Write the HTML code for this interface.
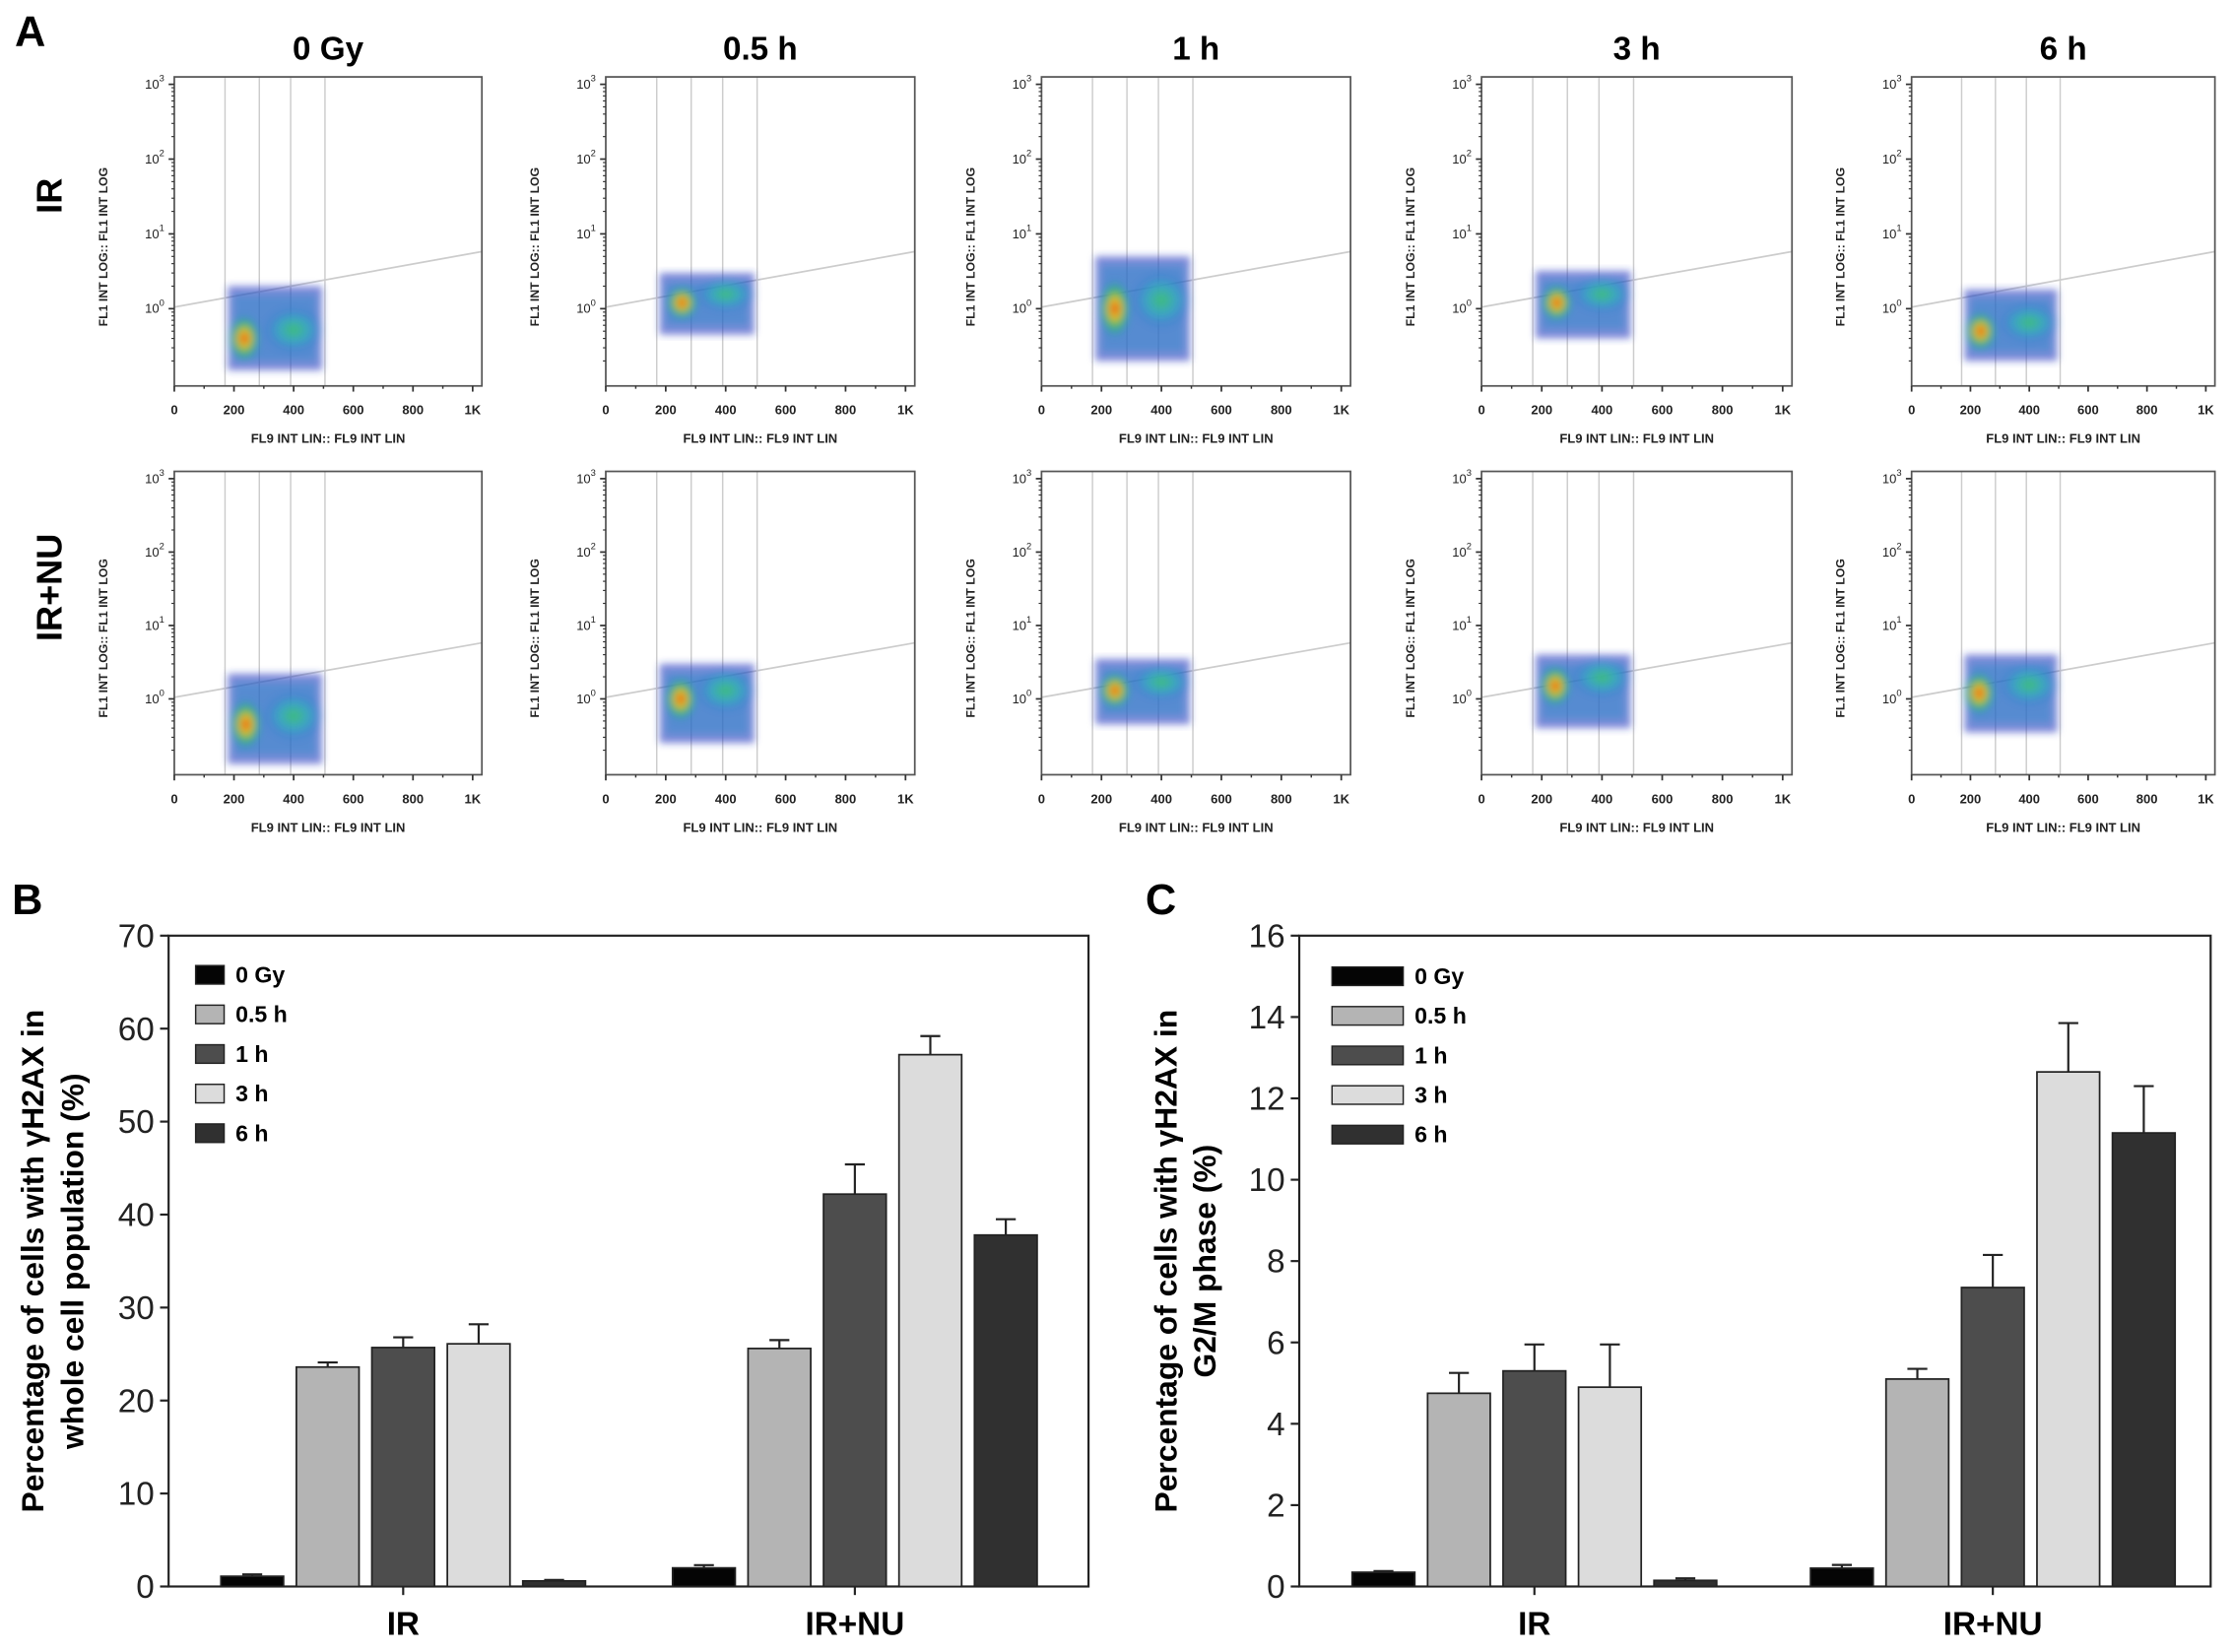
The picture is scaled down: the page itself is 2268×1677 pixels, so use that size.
<!DOCTYPE html>
<html><head><meta charset="utf-8">
<style>
html,body{margin:0;padding:0;background:#fff;}
svg{display:block;font-family:"Liberation Sans",Arial,sans-serif;}
</style></head>
<body>
<svg id="fig" width="2268" height="1677" viewBox="0 0 1568 1160" xmlns="http://www.w3.org/2000/svg">
<defs>
<radialGradient id="hot" cx="50%" cy="50%" r="50%">
<stop offset="0" stop-color="#e02010"/><stop offset="0.3" stop-color="#f0c020"/><stop offset="0.6" stop-color="#30c060" stop-opacity="0.8"/><stop offset="1" stop-color="#2080d0" stop-opacity="0"/>
</radialGradient>
<radialGradient id="warm" cx="50%" cy="50%" r="50%">
<stop offset="0" stop-color="#40c070"/><stop offset="0.5" stop-color="#30b0c0" stop-opacity="0.7"/><stop offset="1" stop-color="#2060d0" stop-opacity="0"/>
</radialGradient>
<filter id="blur"><feGaussianBlur stdDeviation="2.5"/></filter>
</defs>
<g id="root"></g>
</svg>
<script>
const NS='http://www.w3.org/2000/svg';
const root=document.getElementById('root');
function el(tag,attrs,parent,text){const e=document.createElementNS(NS,tag);for(const k in attrs)e.setAttribute(k,attrs[k]);if(text!==undefined)e.textContent=text;(parent||root).appendChild(e);return e;}

// ---------- Panel A data ----------
const timeLabels=['0 Gy','0.5 h','1 h','3 h','6 h'];
const rowLabels=['IR','IR+NU'];
const gateX=[170,285,390,505];
// cluster: [yLow, yHigh, hotX, hotY] in data units (log y)
const clustersIR=[[0.15,2.0,235,0.4],[0.45,3.0,255,1.2],[0.2,5.0,245,1.0],[0.4,3.2,250,1.2],[0.2,1.8,235,0.5]];
const clustersNU=[[0.13,2.2,240,0.45],[0.25,3.0,250,1.0],[0.45,3.5,245,1.3],[0.4,4.0,245,1.5],[0.35,4.0,230,1.2]];
const boxesX=[[122,338],[425,642],[731,948],[1040,1258],[1342,1555]];
const boxRowY=[[54,271],[331,544]];
const xTicks=[0,200,400,600,800,1000];
const xTickLbl=['0','200','400','600','800','1K'];

el('text',{x:10,y:32,'font-size':30,'font-weight':'bold',},root,'A');
timeLabels.forEach((t,i)=>{
  const cx=(boxesX[i][0]+boxesX[i][1])/2;
  const e=el('text',{x:cx,y:42,'font-size':23,'font-weight':'bold','text-anchor':'middle'},root,t);
  
  
});
rowLabels.forEach((r,ri)=>{
  const cy=(boxRowY[ri][0]+boxRowY[ri][1])/2;
  const e=el('text',{x:0,y:0,'font-size':25,'font-weight':'bold','text-anchor':'middle',transform:`translate(43,${cy-25}) rotate(-90)`},root,r);
  
  
});

function scatter(ri,ci,cl){
  const [x0,x1]=boxesX[ci],[y0,y1]=boxRowY[ri];
  const w=x1-x0,h=y1-y0;
  const g=el('g',{});
  
  
  const X=v=>x0+w*0.97*v/1000;
  const Y=v=>y0+h*(0.024+ (3-Math.log10(v))*0.242);
  gateX.forEach(gx=>el('line',{x1:X(gx),x2:X(gx),y1:y0,y2:y1,stroke:'#ccc','stroke-width':1},g));
  el('line',{x1:x0,y1:Y(1.05),x2:x1,y2:Y(5.8),stroke:'#ccc','stroke-width':1.2},g);
  const [lo,hi,hx,hy]=cl;
  const c=el('g',{filter:'url(#blur)'},g);
  el('rect',{x:X(gateX[0])+2,y:Y(hi),width:X(gateX[3])-X(gateX[0])-4,height:Y(lo)-Y(hi),fill:'#2838c0',opacity:0.6},c);
  el('rect',{x:X(gateX[0])+6,y:Y(hi)+6,width:X(gateX[3])-X(gateX[0])-12,height:Y(lo)-Y(hi)-12,fill:'#2a90c8',opacity:0.45},c);
  el('ellipse',{cx:X(400),cy:Y(hy*1.3),rx:22,ry:(Y(lo)-Y(hi))/3.5,fill:'url(#warm)'},c);
  el('ellipse',{cx:X(hx),cy:Y(hy),rx:12,ry:(Y(lo)-Y(hi))/3.4,fill:'url(#hot)'},c);
  el('rect',{x:x0,y:y0,width:w,height:h,fill:'none',stroke:'#555','stroke-width':1.2},g);
  [0,1,2,3].forEach(p=>{
    const yy=Y(Math.pow(10,p));
    el('line',{x1:x0-4,x2:x0,y1:yy,y2:yy,stroke:'#333','stroke-width':1.2},g);
    for(let m=2;m<10;m++){const ym=Y(m*Math.pow(10,p-1));if(ym<y1&&ym>y0)el('line',{x1:x0-2,x2:x0,y1:ym,y2:ym,stroke:'#333','stroke-width':0.8},g);}
    const t=el('text',{x:x0-7,y:yy+3,'font-size':9,'text-anchor':'end',fill:'#222'},g,'10');
    el('tspan',{dy:-5,'font-size':6.5},t,String(p));
  });
  xTicks.forEach((v,k)=>{
    el('line',{x1:X(v),x2:X(v),y1:y1,y2:y1+4,stroke:'#333','stroke-width':1.2},g);
    el('text',{x:X(v),y:y1+20,'font-size':9,'text-anchor':'middle','font-weight':'bold',fill:'#222'},g,xTickLbl[k]);
  });
  for(let v=100;v<1000;v+=200)el('line',{x1:X(v),x2:X(v),y1:y1,y2:y1+2,stroke:'#333'},g);
  el('text',{x:x0+w/2,y:y1+40,'font-size':9,'text-anchor':'middle','font-weight':'bold',fill:'#222'},g,'FL9 INT LIN:: FL9 INT LIN');
  el('text',{x:0,y:0,'font-size':8.5,'text-anchor':'middle','font-weight':'bold',fill:'#222',transform:`translate(${x0-47},${y0+h*0.55}) rotate(-90)`},g,'FL1 INT LOG:: FL1 INT LOG');
}
clustersIR.forEach((c,i)=>scatter(0,i,c));
clustersNU.forEach((c,i)=>scatter(1,i,c));

// ---------- Panel B / C data ----------
const categories=['IR','IR+NU'];
const series=['0 Gy','0.5 h','1 h','3 h','6 h'];
const colors=['#050505','#b4b4b4','#4d4d4d','#dcdcdc','#303030'];
const bIR=[1.1,23.6,25.7,26.1,0.6];
const bIRerr=[0.2,0.5,1.1,2.1,0.1];
const bNU=[2.0,25.6,42.2,57.2,37.8];
const bNUerr=[0.3,0.9,3.2,2.0,1.7];
const bTicks=[0,10,20,30,40,50,60,70];
const cIR=[0.35,4.75,5.3,4.9,0.15];
const cIRerr=[0.03,0.5,0.65,1.05,0.05];
const cNU=[0.45,5.1,7.35,12.65,11.15];
const cNUerr=[0.08,0.25,0.8,1.2,1.15];
const cTicks=[0,2,4,6,8,10,12,14,16];

function barChart(o){
  const g=el('g',{});
  
  
  const {x0,x1,y0,y1,max}=o;
  const Y=v=>y1-(y1-y0)*v/max;
  const plotW=x1-x0;
  const catC=[x0+plotW*o.c1,x0+plotW*o.c2];
  const step=53,bw=44;
  el('text',{x:o.lx,y:y0-15,'font-size':30,'font-weight':'bold'},g,o.label);
  el('rect',{x:x0,y:y0,width:x1-x0,height:y1-y0,fill:'none',stroke:'#222','stroke-width':1.5},g);
  o.ticks.forEach(t=>{
    const yy=Y(t);
    el('line',{x1:x0-6,x2:x0,y1:yy,y2:yy,stroke:'#222','stroke-width':1.5},g);
    const tx=el('text',{x:x0-10,y:yy+8,'font-size':23,'text-anchor':'end',fill:'#222'},g,String(t));
    
    
  });
  [o.ir,o.nu].forEach((vals,ci)=>{
    const errs=ci===0?o.irErr:o.nuErr;
    el('line',{x1:catC[ci],x2:catC[ci],y1:y1,y2:y1+6,stroke:'#222','stroke-width':1.5},g);
    const cl=el('text',{x:catC[ci],y:y1+34,'font-size':23,'font-weight':'bold','text-anchor':'middle'},g,categories[ci]);
    
    
    vals.forEach((v,si)=>{
      const cx=catC[ci]+(si-2)*step;
      const top=Y(v+errs[si]);
      el('line',{x1:cx,x2:cx,y1:Y(v),y2:top,stroke:'#222','stroke-width':1.5},g);
      el('line',{x1:cx-7,x2:cx+7,y1:top,y2:top,stroke:'#222','stroke-width':1.5},g);
      const r=el('rect',{x:cx-bw/2,y:Y(v),width:bw,height:y1-Y(v),fill:colors[si],stroke:'#222','stroke-width':1.2},g);
      
      
    });
  });
  series.forEach((s,i)=>{
    const yy=o.legY+i*27.8;
    const lr=el('rect',{x:o.legX,y:yy-6,width:o.legW,height:13,fill:colors[i],stroke:'#222','stroke-width':1},g);
    
    
    const lt=el('text',{x:o.legX+o.legW+8,y:yy+6,'font-size':16,'font-weight':'bold'},g,s);
    
    
  });
  const t=el('text',{x:0,y:0,'font-size':22,'font-weight':'bold','text-anchor':'middle',transform:`translate(0,${(y0+y1)/2}) rotate(-90)`},g);
  el('tspan',{x:0,y:o.tx1},t,'Percentage of cells with γH2AX in');
  el('tspan',{x:0,y:o.tx2},t,o.title2);
  
  
}
barChart({name:'chart-b',label:'B',lx:8,x0:118,x1:764,y0:657,y1:1114,max:70,ticks:bTicks,c1:0.255,c2:0.746,ir:bIR,irErr:bIRerr,nu:bNU,nuErr:bNUerr,legX:137,legY:684,legW:20,tx1:30,tx2:58,title2:'whole cell population  (%)'});
barChart({name:'chart-c',label:'C',lx:804,x0:912,x1:1552,y0:657,y1:1114,max:16,ticks:cTicks,c1:0.258,c2:0.761,ir:cIR,irErr:cIRerr,nu:cNU,nuErr:cNUerr,legX:935,legY:685,legW:50,tx1:826,tx2:853,title2:'G2/M phase  (%)'});
</script>
</body></html>
